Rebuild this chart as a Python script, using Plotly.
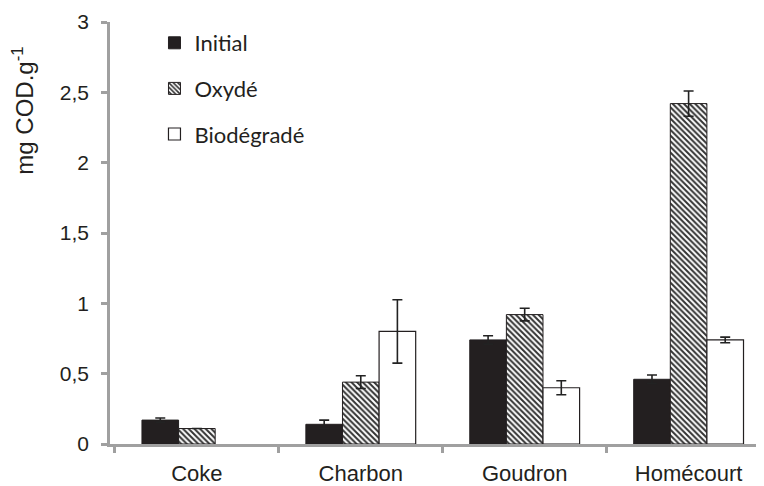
import plotly.graph_objects as go

categories = ["Coke", "Charbon", "Goudron", "Homécourt"]
initial = [0.17, 0.14, 0.74, 0.46]
initial_err = [0.015, 0.03, 0.03, 0.03]
oxyde = [0.11, 0.44, 0.92, 2.42]
oxyde_err = [0.0, 0.045, 0.045, 0.09]
biodegrade = [None, 0.80, 0.40, 0.74]
biodegrade_err = [0.0, 0.225, 0.05, 0.02]
y_ticks = [0, 0.5, 1, 1.5, 2, 2.5, 3]
y_tick_labels = ["0", "0,5", "1", "1,5", "2", "2,5", "3"]
y_title = "mg COD.g<sup>-1</sup>"

err_style = dict(type="data", color="#222222", thickness=1.6, width=5, visible=True)

fig = go.Figure()
fig.add_trace(go.Bar(
    name="Initial", x=categories, y=initial, legendgroup="a",
    marker=dict(color="#231f20", line=dict(color="#231f20", width=1)),
    error_y=dict(array=initial_err, **err_style),
))
fig.add_trace(go.Bar(
    name="Oxydé", x=categories, y=oxyde, legendgroup="b",
    marker=dict(color="white", line=dict(color="#231f20", width=1),
                pattern=dict(shape="\\", fgcolor="#333333", bgcolor="white",
                             size=4, solidity=0.5, fillmode="replace")),
    error_y=dict(array=oxyde_err, **err_style),
))
fig.add_trace(go.Bar(
    name="Biodégradé", x=categories, y=biodegrade, legendgroup="c",
    marker=dict(color="white", line=dict(color="#231f20", width=1.2)),
    error_y=dict(array=biodegrade_err, **err_style),
))

fig.update_layout(
    width=756, height=478,
    margin=dict(l=102, r=0, t=14, b=39),
    paper_bgcolor="white", plot_bgcolor="white",
    barmode="group", bargap=0.33, bargroupgap=0,
    font=dict(family="Liberation Sans, Arial, sans-serif", size=20, color="#231f20"),
    showlegend=True,
    legend=dict(x=0.068, y=1.0, xanchor="left", yanchor="top",
                bgcolor="rgba(0,0,0,0)", tracegroupgap=14,
                font=dict(family="Lato, sans-serif", size=22, color="#231f20"),
                itemwidth=30),
    annotations=[dict(
        text=y_title, textangle=-90, xref="paper", yref="paper",
        x=-0.133, y=0.79, xanchor="center", yanchor="middle", showarrow=False,
        font=dict(family="Liberation Sans, Arial, sans-serif", size=24, color="#231f20"),
    )],
)
fig.update_xaxes(
    type="category", showline=True, linecolor="#a0a0a0", linewidth=2.5,
    ticks="outside", tickson="boundaries", ticklen=6, tickcolor="#a0a0a0", tickwidth=2.5,
    showgrid=False, tickfont=dict(size=22), range=[-0.53, 3.46],
    ticklabelstandoff=8,
)
fig.update_yaxes(
    range=[0, 3], tickvals=y_ticks, ticktext=y_tick_labels,
    showline=True, linecolor="#a0a0a0", linewidth=2.5,
    ticks="outside", ticklen=6, tickcolor="#a0a0a0", tickwidth=2.5,
    showgrid=False, zeroline=False, tickfont=dict(size=21),
    ticklabelstandoff=8,
)

fig.write_html("out.html")
